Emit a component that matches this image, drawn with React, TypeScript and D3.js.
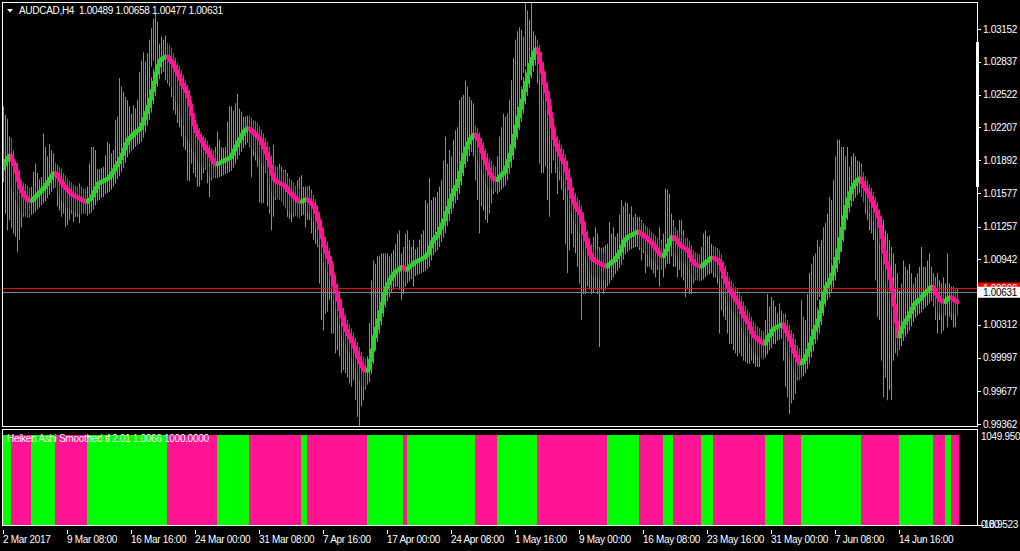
import React from 'react';
import * as d3 from 'd3';

// AUDCAD H4, Heiken Ashi Smoothed. All price series are in pips above BASE.
const BASE = 0.99;
const PIP = 0.0001;

const haOpenFirst = 281;

const haClose = [
  285,289,292,294,
  289,285,278,270,263,259,255,253,251,250,
  251,253,255,257,259,261,263,266,269,272,275,277,
  276,273,270,267,264,262,260,258,256,255,254,253,252,251,250,249,
  251,252,255,259,263,267,268,269,270,271,272,274,277,280,284,287,291,295,300,305,309,311,313,315,317,318,320,324,329,335,341,348,356,364,373,380,385,387,388,389,
  388,385,383,379,375,371,367,362,359,355,350,342,333,323,317,313,310,307,303,300,297,293,290,287,285,
  286,287,288,289,290,291,292,295,299,303,307,310,314,317,319,320,
  319,317,315,313,311,309,305,301,296,291,284,276,271,269,268,267,266,265,263,260,258,256,254,252,250,249,
  250,251,252,
  251,249,247,244,239,232,224,215,207,201,196,191,180,169,162,155,146,139,131,126,122,119,115,110,105,100,95,91,88,87,
  89,97,107,120,128,136,144,152,161,167,171,175,178,181,183,184,186,187,
  185,184,
  186,188,189,191,192,193,194,195,196,198,200,206,211,214,216,219,224,228,232,239,244,251,256,261,264,270,278,287,295,301,306,310,312,314,
  313,309,303,297,291,286,281,276,273,271,270,
  272,274,276,278,283,289,295,303,313,322,331,339,347,356,364,372,381,387,393,396,
  392,383,374,363,355,347,334,321,310,304,299,294,290,287,279,272,262,254,248,244,241,238,230,219,213,206,199,195,193,192,191,190,189,188,187,
  189,190,192,193,196,199,202,207,212,214,216,217,218,219,220,221,
  219,218,216,215,213,211,209,207,204,201,199,197,
  199,203,208,213,216,
  215,213,210,208,206,205,204,202,197,193,190,189,188,187,
  188,190,192,193,195,196,
  195,194,193,190,184,177,172,167,164,161,158,155,152,148,143,139,136,133,128,124,120,119,117,115,114,113,
  116,120,122,126,128,129,130,131,132,
  129,125,121,117,111,105,101,97,94,
  95,98,102,107,113,119,126,130,136,144,153,162,168,171,175,180,187,195,203,214,224,235,245,252,258,263,266,269,271,272,
  268,264,261,258,254,250,245,240,235,226,215,201,191,186,176,165,150,134,120,
  124,129,133,136,139,143,147,151,153,155,156,159,161,163,165,167,168,
  165,161,158,155,154,153,
  155,157,158,
  157,155,154,153,
];

const haHigh = [
  298,302,305,307,
  311,299,289,287,280,270,268,267,265,263,
  263,265,267,269,271,273,275,278,281,284,287,289,
  287,285,283,280,277,275,272,270,268,266,265,264,264,263,262,262,
  264,265,268,272,276,280,281,282,283,284,285,287,290,293,297,300,304,308,313,318,322,324,326,328,330,331,333,337,342,348,354,361,369,377,386,393,398,400,401,402,
  402,400,397,392,388,383,380,376,371,366,362,357,347,335,328,323,320,316,313,311,308,304,301,299,297,
  298,299,300,301,302,303,304,307,311,315,319,322,326,329,331,332,
  332,330,328,327,325,322,319,315,311,307,302,294,287,284,282,281,280,279,277,274,272,270,268,265,263,262,
  262,263,264,
  261,260,258,256,252,246,239,232,224,216,211,205,197,189,179,171,164,156,148,142,136,132,128,124,119,115,110,105,101,99,
  101,109,119,132,140,148,156,164,173,179,183,187,190,193,195,196,198,199,
  191,190,
  198,200,201,203,204,205,206,207,208,210,212,218,223,226,228,231,236,240,244,251,256,263,268,273,276,282,290,299,307,313,318,322,324,326,
  323,320,316,311,307,301,296,291,287,285,283,
  285,287,289,291,296,302,308,316,326,335,344,352,360,369,377,385,394,400,406,409,
  405,400,393,383,374,364,355,342,330,320,313,309,304,300,295,289,282,272,263,258,254,251,246,239,230,222,215,209,206,204,203,202,201,200,199,
  201,202,204,205,208,211,214,219,224,226,228,229,230,231,232,233,
  231,230,229,227,225,223,221,219,217,215,213,211,
  211,215,220,225,228,
  226,224,222,220,218,216,215,215,212,208,203,201,200,199,
  200,202,204,205,207,208,
  207,206,205,203,199,193,188,182,177,174,171,168,166,163,159,154,150,146,143,139,135,132,130,128,126,125,
  128,132,134,138,140,141,142,143,144,
  142,139,136,131,126,120,116,112,109,
  107,110,114,119,125,131,138,142,148,156,165,174,180,183,187,192,199,207,215,226,236,247,257,264,270,275,278,281,283,284,
  283,278,274,270,266,263,259,254,249,242,234,222,211,201,193,184,171,157,142,
  136,141,145,148,151,155,159,163,165,167,168,171,173,175,177,179,180,
  174,171,168,167,165,164,
  167,169,170,
  167,166,165,164,
];

const haLow = [
  268,272,276,279,
  263,258,251,246,243,239,237,235,234,234,
  237,238,240,242,244,246,248,250,253,256,259,262,
  263,259,254,251,248,245,243,242,241,240,239,238,238,238,238,238,
  236,238,239,242,246,250,254,255,256,257,258,259,261,264,267,271,274,278,282,287,292,296,298,300,302,304,305,307,311,316,322,328,335,343,351,360,367,372,374,375,
  366,363,359,352,347,342,337,330,323,313,309,306,301,297,293,289,287,285,282,280,278,275,273,272,272,
  272,273,274,275,276,277,278,279,282,286,290,294,297,301,304,306,
  303,301,299,297,294,291,287,284,278,272,265,259,255,253,252,251,249,246,243,241,239,238,237,236,235,234,
  236,237,238,
  239,237,234,230,224,216,209,200,191,186,181,174,165,155,147,140,131,123,117,112,108,104,100,95,90,85,78,73,71,69,
  74,76,84,94,107,115,123,131,139,148,154,158,162,165,168,170,171,173,
  174,172,
  171,173,175,176,178,179,180,181,182,183,185,187,193,198,201,203,206,211,215,219,226,231,238,243,248,251,257,265,274,282,288,293,297,299,
  294,289,285,280,274,268,264,262,261,260,259,
  257,259,261,263,265,270,276,282,290,300,309,318,326,334,343,351,359,368,374,380,
  376,366,357,347,337,330,318,306,294,287,283,278,274,270,263,256,246,238,232,228,224,220,213,203,197,191,184,180,178,177,176,175,174,173,172,
  174,176,177,179,180,183,186,189,194,199,201,203,204,205,206,207,
  206,205,203,201,199,197,195,193,191,188,186,184,
  184,186,190,195,200,
  201,199,196,194,192,191,190,188,184,180,176,175,174,173,
  174,175,177,179,180,182,
  182,181,179,174,168,163,158,153,149,146,143,141,138,134,129,124,121,119,114,110,106,104,102,100,99,98,
  100,103,107,109,113,115,116,117,118,
  115,110,106,100,95,89,85,81,78,
  81,82,85,89,94,100,106,113,117,123,131,140,149,155,158,162,167,174,182,190,201,211,222,232,239,245,250,253,256,258,
  254,249,245,242,239,235,230,224,217,209,196,182,170,163,155,143,128,114,101,
  107,111,116,120,123,126,130,134,138,140,142,143,146,148,150,152,154,
  151,147,144,142,141,140,
  140,142,144,
  143,142,141,140,
];

// raw H4 bars (high / low)
const barHigh = [
  341,333,329,312,302,293,286,270,269,264,261,257,256,254,264,278,286,277,270,273,315,302,293,305,299,296,286,285,281,281,273,270,269,269,265,264,264,262,267,264,262,261,
  261,286,302,302,299,281,280,278,277,294,307,305,296,299,328,331,368,360,355,350,347,341,334,342,339,347,374,385,393,384,392,405,416,425,430,422,401,408,405,409,
  398,395,390,382,376,379,368,363,360,350,337,328,315,312,315,309,305,306,307,305,305,299,297,296,302,
  317,309,302,299,296,326,341,341,337,344,353,339,336,331,331,331,
  329,326,321,317,312,305,305,304,297,293,286,289,304,277,283,286,283,280,280,277,270,264,264,261,270,273,
  275,264,256,
  264,265,261,256,251,238,232,225,213,200,197,192,187,177,168,155,149,139,129,128,126,123,117,113,107,97,91,88,91,97,
  101,133,174,193,190,197,197,200,200,200,200,197,200,203,209,219,222,200,
  206,219,
  222,213,206,213,203,206,213,219,222,251,248,272,251,254,254,259,264,270,289,312,286,299,293,309,318,321,347,350,352,366,360,350,347,344,
  321,312,309,302,305,296,289,289,289,283,283,
  293,312,321,334,331,334,347,366,387,405,413,417,414,408,443,433,424,443,413,408,
  405,385,373,363,353,347,337,325,315,315,309,305,302,296,289,283,270,261,254,245,238,229,219,213,209,206,206,205,216,225,219,206,205,206,208,
  209,230,219,225,216,219,237,251,245,249,248,238,245,235,238,235,
  235,232,225,219,222,219,213,216,213,209,225,213,
  219,262,261,257,238,
  232,225,222,232,232,222,206,203,200,197,193,197,197,195,
  206,219,222,216,217,209,
  206,206,200,197,190,184,181,177,174,168,168,161,158,155,149,145,142,139,136,129,126,123,121,120,117,118,
  136,161,149,158,155,149,142,152,145,
  142,142,136,129,126,123,117,110,104,
  155,139,136,161,181,190,197,200,213,206,213,225,229,238,254,251,270,293,309,309,302,302,293,302,283,293,296,293,289,288,
  286,273,264,261,257,254,251,248,245,238,235,232,222,219,213,206,200,190,181,
  165,171,193,187,184,190,181,171,177,181,187,206,187,187,193,200,187,
  181,177,181,174,171,177,
  171,200,171,
  168,168,165,166,
];

const barLow = [
  269,238,222,232,224,219,216,201,213,225,235,235,236,237,238,245,246,251,251,254,257,261,264,265,270,269,269,245,241,235,238,225,227,232,238,230,235,235,229,238,238,241,
  248,251,248,251,254,254,251,253,254,261,264,269,269,273,278,281,296,297,299,302,302,305,307,309,309,312,328,331,334,341,350,360,379,385,379,369,385,382,379,366,
  363,360,350,337,333,325,321,312,302,299,270,269,286,277,273,264,264,270,277,280,267,254,270,273,275,
  280,277,278,280,281,283,286,289,293,299,305,302,304,305,305,309,
  302,273,293,289,283,249,248,248,277,245,238,222,235,251,254,261,257,254,246,235,233,230,235,238,245,241,
  238,241,225,
  232,232,219,213,209,206,171,136,126,142,144,155,123,123,104,107,101,85,88,85,81,75,72,78,59,43,33,53,59,69,
  78,88,104,120,126,136,142,149,155,161,165,171,171,174,168,168,165,155,
  161,168,
  174,177,187,168,181,184,185,187,190,197,203,206,209,219,222,224,225,235,241,248,251,257,261,264,267,277,283,289,296,309,310,312,305,293,
  270,251,219,245,241,232,229,238,248,257,264,
  267,270,277,283,289,293,296,302,315,331,341,350,366,373,379,382,385,395,392,389,
  363,286,277,277,283,251,235,277,289,277,257,270,261,251,209,181,203,219,206,200,187,171,136,161,161,168,165,161,163,165,161,110,165,161,165,
  168,171,174,177,181,187,200,200,206,213,206,203,209,216,213,206,
  203,193,200,181,187,187,184,181,177,184,168,187,
  177,187,193,190,197,
  187,187,177,184,177,174,158,165,161,161,171,174,177,176,
  174,177,184,181,184,181,
  177,177,171,123,145,139,136,123,113,113,107,104,101,104,101,97,96,94,94,97,94,91,91,91,101,102,
  110,117,120,120,123,113,117,120,123,
  97,72,62,46,56,59,65,78,81,
  91,97,104,107,123,126,136,139,155,158,165,168,174,177,187,193,197,200,203,219,225,232,238,251,254,257,261,267,264,261,
  257,251,238,232,222,219,213,174,139,136,97,62,81,59,69,59,97,104,107,
  113,117,117,120,126,133,136,139,145,149,152,155,158,161,161,165,161,
  149,136,123,136,123,126,
  142,129,139,
  136,129,129,148,
];

// subwindow trend runs: [number of bars, 1 = up / -1 = down]
const trendRuns: [number, number][] = [
  [4, 1], [10, -1], [12, 1], [16, -1], [40, 1], [25, -1], [16, 1], [26, -1], [3, 1], [30, -1],
  [18, 1], [2, -1], [34, 1], [11, -1], [20, 1], [35, -1], [16, 1], [12, -1], [5, 1], [14, -1],
  [6, 1], [26, -1], [9, 1], [9, -1], [30, 1], [19, -1], [17, 1], [6, -1], [3, 1], [4, -1],
];

const priceTicks = [1.03152, 1.02837, 1.02522, 1.02207, 1.01892, 1.01577, 1.01257, 1.00942, 1.00312, 0.99997, 0.99677, 0.99362];
const timeLabels = [
  '2 Mar 2017', '9 Mar 08:00', '16 Mar 16:00', '24 Mar 00:00', '31 Mar 08:00', '7 Apr 16:00', '17 Apr 00:00',
  '24 Apr 08:00', '1 May 16:00', '9 May 00:00', '16 May 08:00', '23 May 16:00', '31 May 00:00', '7 Jun 08:00', '14 Jun 16:00',
];
const timeLabelEvery = 32;

const BID = 1.00631;
const ASK = 1.00666;
const titleText = 'AUDCAD,H4  1.00489 1.00658 1.00477 1.00631';
const subTitle = 'Heiken Ashi Smoothed tf 2.01 1.0066 1000.0000';
const subMax = 1049.95;
const subMin = -18.9523;
const subValue = 1000;

const UP = '#32cd32';
const DOWN = '#ff1493';
const SUB_UP = '#00ff00';
const FONT = "'Liberation Sans', Arial, sans-serif";

const App: React.FC = () => {
  const W = 1020, H = 551;
  const n = haClose.length;
  const price = (v: number) => BASE + v * PIP;

  const x = d3.scaleLinear().domain([0, n]).range([3, 3 + 2 * n]);
  const y = d3.scaleLinear().domain([0.99362, 1.03152]).range([424, 29]);
  const ys = d3.scaleLinear().domain([subMin, subMax]).range([526.7, 430.5]);

  const dirs: number[] = trendRuns.flatMap(([len, d]) => Array(len).fill(d));

  const bars = d3.range(n).map((i) => {
    const open = i > 0 ? haClose[i - 1] : haOpenFirst;
    return {
      i,
      dir: dirs[i] ?? 1,
      o: y(price(open)),
      c: y(price(haClose[i])),
      hh: y(price(haHigh[i] ?? haClose[i])),
      hl: y(price(haLow[i] ?? haClose[i])),
      rh: y(price(barHigh[i] ?? haClose[i])),
      rl: y(price(barLow[i] ?? haClose[i])),
    };
  });

  const txt = { fontFamily: FONT, fontSize: 10, letterSpacing: -0.3, fill: '#fff' } as const;

  return (
    <svg width={W} height={H} style={{ position: 'absolute', left: 0, top: 0, display: 'block' }}>
      <defs>
        <clipPath id="plot">
          <rect x={3} y={3} width={974} height={423} />
        </clipPath>
      </defs>
      <rect width={W} height={H} fill="#000" />

      <g clipPath="url(#plot)">
        {/* raw bars */}
        {bars.map((b) => (
          <rect key={'r' + b.i} x={x(b.i)} y={b.rh} width={1} height={Math.max(1, b.rl - b.rh)} fill={UP} />
        ))}
        {/* smoothed HA wicks */}
        {bars.map((b) => (
          <rect key={'w' + b.i} x={x(b.i)} y={b.hh} width={1} height={Math.max(1, b.hl - b.hh)} fill={b.dir > 0 ? UP : DOWN} />
        ))}
        <line x1={3} x2={977} y1={Math.round(y(ASK)) + 0.5} y2={Math.round(y(ASK)) + 0.5} stroke="#ff0000" />
        <line x1={3} x2={977} y1={Math.round(y(BID)) + 0.5} y2={Math.round(y(BID)) + 0.5} stroke="#778899" />
        {/* smoothed HA bodies */}
        {bars.map((b) => {
          const top = Math.min(b.o, b.c) - 1.5;
          return (
            <rect key={'b' + b.i} x={x(b.i) - 1} y={top} width={3} height={Math.abs(b.o - b.c) + 3} fill={b.dir > 0 ? UP : DOWN} />
          );
        })}
      </g>

      {/* title */}
      <path d="M7,9 L13,9 L10,12.5 Z" fill="#fff" />
      <text x={19} y={14} {...txt} style={{ whiteSpace: 'pre' }}>{titleText}</text>

      {/* frames */}
      <rect x={2.5} y={2.5} width={975} height={424} fill="none" stroke="#fff" />
      <rect x={976} y={42} width={3} height={145} fill="#fff" />

      {/* price axis */}
      {priceTicks.map((p) => (
        <g key={p}>
          <line x1={978} x2={981} y1={Math.round(y(p)) + 0.5} y2={Math.round(y(p)) + 0.5} stroke="#fff" />
          <text x={983} y={y(p) + 3.5} {...txt}>{p.toFixed(5)}</text>
        </g>
      ))}
      <rect x={978} y={y(ASK) - 5.5} width={42} height={11} fill="#ff0000" />
      <text x={983} y={y(ASK) + 3.5} {...txt}>{ASK.toFixed(5)}</text>
      <rect x={978} y={y(BID) - 5} width={42} height={11} fill="#fff" />
      <text x={983} y={y(BID) + 3.8} {...txt} fill="#000">{BID.toFixed(5)}</text>

      {/* subwindow */}
      {bars.map((b) => (
        <rect key={'s' + b.i} x={x(b.i)} y={ys(subValue)} width={2} height={ys(0) - ys(subValue)} fill={b.dir > 0 ? SUB_UP : DOWN} />
      ))}
      <rect x={2.5} y={429.5} width={975} height={96} fill="none" stroke="#fff" />
      <text x={7} y={441.5} {...txt}>{subTitle}</text>
      <text x={981} y={440} {...txt}>{subMax.toFixed(3)}</text>
      <text x={981} y={527.5} {...txt}>{(0).toFixed(2)}</text>
      <text x={981} y={527.5} {...txt}>{subMin.toFixed(4)}</text>
      <line x1={978} x2={981} y1={525.5} y2={525.5} stroke="#fff" />

      {/* time axis */}
      {timeLabels.map((t, k) => {
        const tx = x(k * timeLabelEvery) + 0.5;
        return (
          <g key={t}>
            <line x1={tx} x2={tx} y1={530} y2={534} stroke="#fff" />
            <text x={tx - 0.5} y={543} {...txt}>{t}</text>
          </g>
        );
      })}
    </svg>
  );
};

export default App;
